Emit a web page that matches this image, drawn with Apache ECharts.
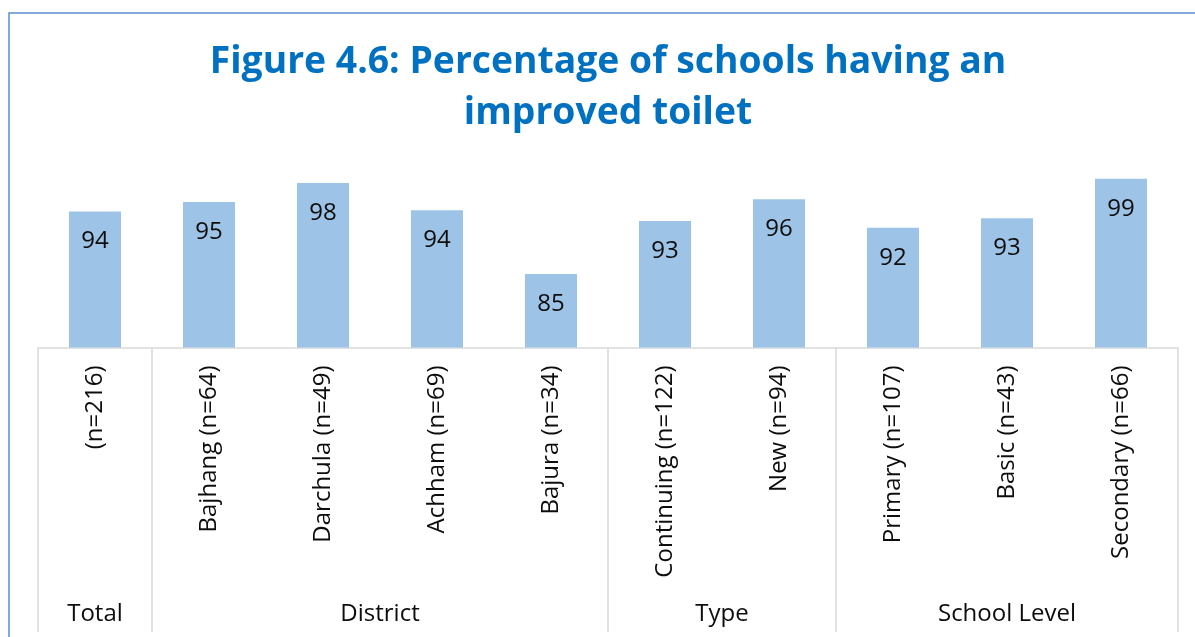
<!DOCTYPE html>
<html>
<head>
<meta charset="utf-8">
<script src="https://cdn.jsdelivr.net/npm/echarts@6/dist/echarts.min.js"></script>
<style>
html,body{margin:0;padding:0;background:#fff;}
#chart{width:1195px;height:637px;}
</style>
</head>
<body>
<div id="chart"></div>
<script>
const titleText = 'Figure 4.6: Percentage of schools having an\nimproved toilet';
const categories = ['(n=216)', 'Bajhang (n=64)', 'Darchula (n=49)', 'Achham (n=69)', 'Bajura (n=34)',
  'Continuing (n=122)', 'New (n=94)', 'Primary (n=107)', 'Basic (n=43)', 'Secondary (n=66)'];
const values = [94.0, 95.4, 98.2, 94.2, 84.8, 92.6, 95.8, 91.6, 93.0, 98.8];
const groups = ['Total', 'District', 'Type', 'School Level'];
const groupSizes = [1, 4, 2, 3];

const FONT = '"Open Sans", "Noto Sans", sans-serif';
const chart = echarts.init(document.getElementById('chart'), null, {renderer: 'canvas'});

chart.setOption({
  animation: false,
  backgroundColor: '#ffffff',
  grid: {left: 38, right: 17, top: 170.7, height: 176.8, containLabel: false},
  xAxis: {
    type: 'category',
    data: categories,
    axisLine: {show: true, lineStyle: {color: '#D9D9D9', width: 1.5}},
    axisTick: {show: false},
    axisLabel: {rotate: 90, margin: 18, fontSize: 24, color: '#0d0d0d', fontFamily: FONT, interval: 0}
  },
  yAxis: {type: 'value', min: 74, max: 100, show: false, splitLine: {show: false}},
  series: [{
    type: 'bar',
    data: values,
    barCategoryGap: '54.4%',
    itemStyle: {color: '#9DC3E6'},
    label: {
      show: true, position: 'insideTop', distance: 18,
      fontSize: 24, color: '#0d0d0d', fontFamily: FONT,
      formatter: p => Math.round(p.value)
    }
  }]
});

function drawDecor() {
  const px = i => chart.convertToPixel({xAxisIndex: 0}, i);
  const step = px(1) - px(0);
  const y0 = chart.convertToPixel({yAxisIndex: 0}, 74);
  const yBottom = 632;
  const elements = [];
  // border of chart area
  elements.push({type: 'polyline', shape: {points: [[9, 637], [9, 13], [1195, 13]]},
    style: {stroke: '#5B8FD3', lineWidth: 1.5, fill: null}, z: 10});
  elements.push({type: 'text', x: 608, y: 37,
    style: {text: titleText, align: 'center', verticalAlign: 'top',
      font: 'bold 37.3px ' + FONT, fill: '#0070C0', lineHeight: 51}});
  let start = 0;
  const bounds = [px(0) - step / 2];
  groups.forEach((g, gi) => {
    const end = start + groupSizes[gi];
    const left = px(start) - step / 2;
    const right = px(end - 1) + step / 2;
    bounds.push(right);
    elements.push({type: 'text', x: (left + right) / 2, y: 614,
      style: {text: g, align: 'center', verticalAlign: 'middle',
        font: '24px ' + FONT, fill: '#0d0d0d'}});
    start = end;
  });
  bounds.forEach(b => {
    elements.push({type: 'line', shape: {x1: b, y1: y0, x2: b, y2: yBottom},
      style: {stroke: '#D9D9D9', lineWidth: 1.5}});
  });
  chart.setOption({graphic: {elements: elements}});
}
drawDecor();
</script>
</body>
</html>
